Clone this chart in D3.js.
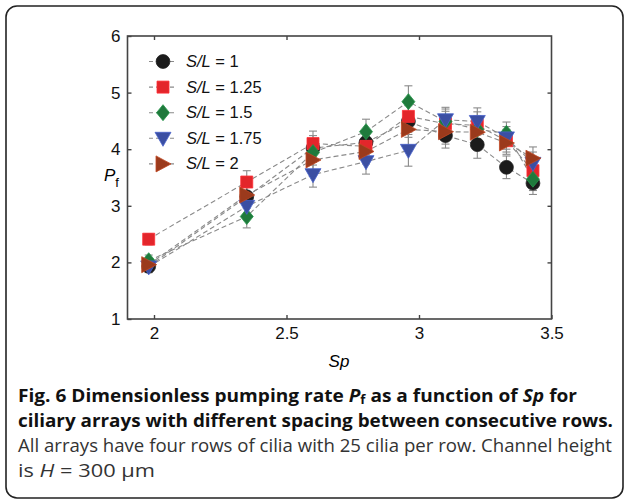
<!DOCTYPE html>
<html><head><meta charset="utf-8">
<script src="https://cdn.jsdelivr.net/npm/d3@7"></script>
<style>body{margin:0;background:#fff}svg{display:block}</style>
</head><body>
<script>
const sp = [1.98, 2.35, 2.60, 2.80, 2.96, 3.10, 3.22, 3.33, 3.43];
const seriesNames = ["1", "1.25", "1.5", "1.75", "2"];
const sl1   = [1.93, 3.16, 4.02, 4.12, 4.49, 4.24, 4.08, 3.68, 3.40];
const sl125 = [2.41, 3.42, 4.10, 4.05, 4.58, 4.45, 4.42, 4.15, 3.62];
const sl15  = [2.03, 2.81, 3.94, 4.31, 4.84, 4.49, 4.35, 4.28, 3.47];
const sl175 = [1.92, 2.99, 3.55, 3.78, 3.98, 4.52, 4.49, 4.20, 3.75];
const sl2   = [1.96, 3.19, 3.81, 3.96, 4.35, 4.31, 4.30, 4.11, 3.84];
const errs  = [0.10, 0.20, 0.22, 0.22, 0.28, 0.22, 0.24, 0.20, 0.20];
const xTicks = [2, 2.5, 3, 3.5];
const yTicks = [1, 2, 3, 4, 5, 6];

const W = 629, H = 504;
const svg = d3.select("body").append("svg").attr("width", W).attr("height", H);

// frame
svg.append("rect").attr("x", 6).attr("y", 6).attr("width", W - 12).attr("height", H - 12)
  .attr("rx", 11).attr("fill", "none").attr("stroke", "#222").attr("stroke-width", 1.6);

const x = d3.scaleLinear().domain([1.9, 3.5]).range([127.5, 551.5]);
const y = d3.scaleLinear().domain([1, 6]).range([319, 36]);

const axCol = "#444";
const g = svg.append("g");
g.append("rect").attr("x", x(1.9)).attr("y", y(6)).attr("width", x(3.5) - x(1.9)).attr("height", y(1) - y(6))
  .attr("fill", "none").attr("stroke", axCol).attr("stroke-width", 1.6);

const fontTick = "Liberation Sans, Arial, sans-serif";
const xb = g.append("g").attr("transform", `translate(0,${y(1)})`)
  .call(d3.axisBottom(x).tickValues(xTicks).tickSize(-4).tickPadding(8).tickFormat(d3.format("")));
const xt = g.append("g").attr("transform", `translate(0,${y(6)})`)
  .call(d3.axisTop(x).tickValues(xTicks).tickSize(-4).tickFormat(""));
const yl = g.append("g").attr("transform", `translate(${x(1.9)},0)`)
  .call(d3.axisLeft(y).tickValues(yTicks).tickSize(-4).tickPadding(7).tickFormat(d3.format("d")));
const yr = g.append("g").attr("transform", `translate(${x(3.5)},0)`)
  .call(d3.axisRight(y).tickValues(yTicks).tickSize(-4).tickFormat(""));
[xb, xt, yl, yr].forEach(a => {
  a.select(".domain").remove();
  a.selectAll("line").attr("stroke", axCol).attr("stroke-width", 1.4);
  a.selectAll("text").attr("font-family", fontTick).attr("font-size", 17).attr("fill", "#111");
});
xt.selectAll(".tick").filter(d => d === 3.5).remove();
yr.selectAll(".tick").filter(d => d === 1 || d === 6).remove();

// axis labels
svg.append("text").attr("x", 339).attr("y", 367).attr("text-anchor", "middle")
  .attr("font-family", fontTick).attr("font-size", 17).attr("font-style", "italic").text("Sp");
const pl = svg.append("text").attr("x", 104).attr("y", 181).attr("font-family", fontTick).attr("font-size", 17);
pl.append("tspan").attr("font-style", "italic").text("P");
pl.append("tspan").attr("dy", 6).attr("font-size", 13).text("f");

// series
const series = [
  {name: seriesNames[0], vals: sl1,   color: "#1b1b1b", shape: "circle"},
  {name: seriesNames[1], vals: sl125, color: "#e3262b", shape: "square"},
  {name: seriesNames[2], vals: sl15,  color: "#1f7a3c", shape: "diamond"},
  {name: seriesNames[3], vals: sl175, color: "#3b4fa3", shape: "down"},
  {name: seriesNames[4], vals: sl2,   color: "#9b3a1c", shape: "right"}
];

function markerPath(shape) {
  switch (shape) {
    case "circle": return d3.symbol(d3.symbolCircle, 150)();
    case "square": return "M-6,-6H6V6H-6Z";
    case "diamond": return "M0,-8L6.5,0L0,8L-6.5,0Z";
    case "down": return "M-8,-6L8,-6L0,8Z";
    case "right": return "M-7,-8L8,0L-7,8Z";
  }
}

const line = d3.line().x((d, i) => x(sp[i])).y(d => y(d));
const lines = svg.append("g");
series.forEach(s => {
  lines.append("path").attr("d", line(s.vals)).attr("fill", "none")
    .attr("stroke", "#8a8a8a").attr("stroke-width", 1.1).attr("stroke-dasharray", "5,3");
});

const eb = svg.append("g").attr("stroke", "#8a8a8a").attr("stroke-width", 1.1);
series.forEach(s => {
  s.vals.forEach((v, i) => {
    const cx = x(sp[i]);
    eb.append("line").attr("x1", cx).attr("x2", cx).attr("y1", y(v + errs[i])).attr("y2", y(v - errs[i]));
    eb.append("line").attr("x1", cx - 4).attr("x2", cx + 4).attr("y1", y(v + errs[i])).attr("y2", y(v + errs[i]));
    eb.append("line").attr("x1", cx - 4).attr("x2", cx + 4).attr("y1", y(v - errs[i])).attr("y2", y(v - errs[i]));
  });
});

const mk = svg.append("g");
series.forEach(s => {
  mk.selectAll(null).data(s.vals).enter().append("path")
    .attr("d", markerPath(s.shape))
    .attr("transform", (d, i) => `translate(${x(sp[i])},${y(d)})`)
    .attr("fill", s.color).attr("stroke", d3.color(s.color).brighter(0.6)).attr("stroke-width", 0.8);
});

// legend
const leg = svg.append("g");
series.forEach((s, i) => {
  const ly = 61.5 + i * 25.6;
  leg.append("line").attr("x1", 149).attr("x2", 177).attr("y1", ly).attr("y2", ly)
    .attr("stroke", "#8a8a8a").attr("stroke-width", 1.1).attr("stroke-dasharray", "4,3");
  leg.append("path").attr("d", markerPath(s.shape)).attr("transform", `translate(163,${ly})`)
    .attr("fill", s.color).attr("stroke", d3.color(s.color).brighter(0.6)).attr("stroke-width", 0.8);
  const t = leg.append("text").attr("x", 186).attr("y", ly + 5.5).attr("font-family", fontTick).attr("font-size", 16.5).attr("fill", "#111");
  t.append("tspan").attr("font-style", "italic").text("S/L");
  t.append("tspan").text(" = " + s.name);
});

// caption
const capFont = "'Open Sans', 'Noto Sans', sans-serif";
const capSize = 17.5;
const c1 = svg.append("text").attr("x", 18).attr("y", 402).attr("font-family", capFont).attr("font-size", capSize).attr("font-weight", "bold").attr("fill", "#111")
  .attr("textLength", 559).attr("lengthAdjust", "spacingAndGlyphs");
c1.append("tspan").text("Fig. 6 Dimensionless pumping rate ");
c1.append("tspan").attr("font-style", "italic").text("P");
c1.append("tspan").attr("font-size", 12).attr("dy", 2).text("f");
c1.append("tspan").attr("dy", -2).text(" as a function of ");
c1.append("tspan").attr("font-style", "italic").text("Sp");
c1.append("tspan").text(" for");
svg.append("text").attr("x", 18).attr("y", 427).attr("font-family", capFont).attr("font-size", capSize).attr("font-weight", "bold").attr("fill", "#111")
  .attr("textLength", 595).attr("lengthAdjust", "spacingAndGlyphs")
  .text("ciliary arrays with different spacing between consecutive rows.");
svg.append("text").attr("x", 18).attr("y", 452).attr("font-family", capFont).attr("font-size", capSize).attr("fill", "#333")
  .attr("textLength", 594).attr("lengthAdjust", "spacingAndGlyphs")
  .text("All arrays have four rows of cilia with 25 cilia per row. Channel height");
const c4 = svg.append("text").attr("x", 18).attr("y", 477).attr("font-family", capFont).attr("font-size", capSize).attr("fill", "#333")
  .attr("textLength", 137).attr("lengthAdjust", "spacingAndGlyphs");
c4.append("tspan").text("is ");
c4.append("tspan").attr("font-style", "italic").text("H");
c4.append("tspan").text(" = 300 μm");
</script>
</body></html>
